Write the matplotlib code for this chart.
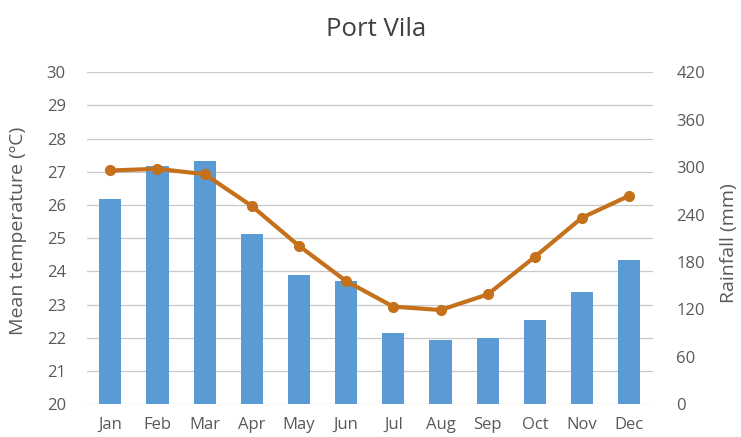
import matplotlib
matplotlib.use("Agg")
import matplotlib.pyplot as plt

months = ["Jan", "Feb", "Mar", "Apr", "May", "Jun", "Jul", "Aug", "Sep", "Oct", "Nov", "Dec"]
rainfall_mm = [260, 302, 308, 216, 164, 156, 90, 81, 84, 107, 142, 183]
mean_temp_c = [27.04, 27.09, 26.93, 25.97, 24.77, 23.71, 22.94, 22.84, 23.31, 24.44, 25.62, 26.28]
temp_ticks = list(range(20, 31))
rain_ticks = list(range(0, 421, 60))

plt.rcParams['font.family'] = ['Open Sans', 'DejaVu Sans']

fig = plt.figure(figsize=(7.41, 4.37), dpi=100)
ax = fig.add_axes([0.117, 0.0748, 0.764, 0.76])   # temperature axis (left), gridlines
ax2 = ax.twinx()                                   # rainfall axis (right), bars
ax3 = ax.twinx()                                   # temperature line on top

x = list(range(len(months)))
text_col = '#595959'

ax.set_ylim(20, 30)
ax.set_yticks(temp_ticks)
ax.set_xlim(-0.5, 11.5)
ax.set_xticks(x)
ax.set_xticklabels(months)
ax.grid(axis='y', color='#c8c8c8', linewidth=0.9)
ax.set_axisbelow(True)
ax.set_ylabel("Mean temperature (ºC)", color=text_col, fontsize=14)
ax.yaxis.set_label_coords(-0.106, 0.522)

ax2.bar(x, rainfall_mm, width=0.47, color='#5b9bd5', zorder=2)
ax2.set_ylim(0, 420)
ax2.set_yticks(rain_ticks)
ax2.set_ylabel("Rainfall (mm)", color=text_col, fontsize=14)
ax2.yaxis.set_label_coords(1.119, 0.486)

ax3.plot(x, mean_temp_c, color='#c5701a', linewidth=3, marker='o', markersize=7, zorder=5)
ax3.set_ylim(20, 30)
ax3.set_yticks([])

for a in (ax, ax2, ax3):
    for s in a.spines.values():
        s.set_visible(False)
    a.tick_params(length=0, colors=text_col, labelsize=12)

ax.tick_params(axis='y', pad=15)
ax.tick_params(axis='x', pad=9)
ax2.tick_params(axis='y', pad=17)

fig.text(0.508, 1 - 29 / 437, "Port Vila", ha='center', va='center', fontsize=18.5, color='#404040')

fig.savefig("out.png", dpi=100)
